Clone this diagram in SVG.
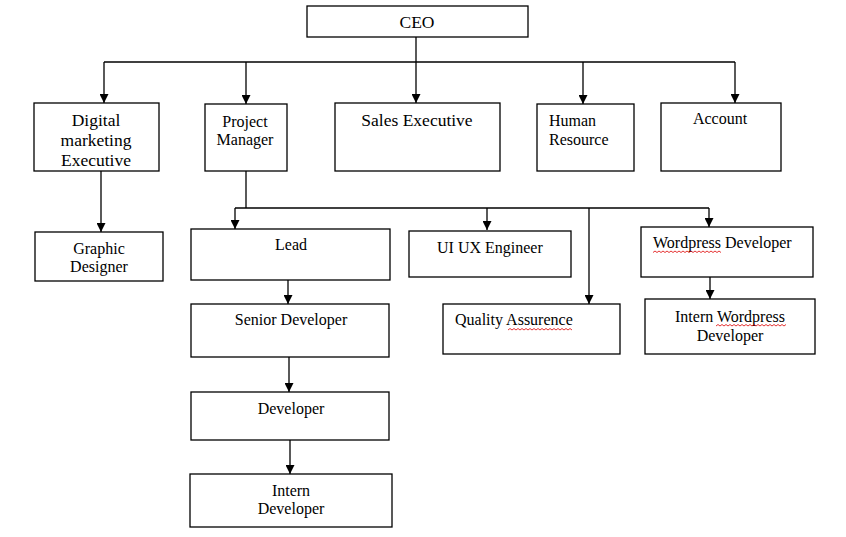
<svg xmlns="http://www.w3.org/2000/svg" width="846" height="537" viewBox="0 0 846 537">
<style>
.box{fill:#fff;stroke:#000;stroke-width:1.3}
.t{font-family:"Liberation Serif","Times New Roman",serif;font-size:16px;fill:#000}
.tl{font-family:"Liberation Serif","Times New Roman",serif;font-size:17.5px;fill:#000}
.c{text-anchor:middle}
.ln{fill:none;stroke:#000;stroke-width:1.3}
.sq{fill:none;stroke:#d00;stroke-width:0.8}
</style>
<defs>
<marker id="ah" viewBox="0 0 10 10" markerWidth="9" markerHeight="9" refX="10" refY="5" orient="auto" markerUnits="userSpaceOnUse">
<path d="M0,0 L10,5 L0,10 z" fill="#000"/>
</marker>
</defs>
<rect width="846" height="537" fill="#fff"/>
<g id="connectors">
<path class="ln" d="M416,37 V103" marker-end="url(#ah)"/>
<path class="ln" d="M104,62 H735"/>
<path class="ln" d="M104,62 V103" marker-end="url(#ah)"/>
<path class="ln" d="M246,62 V104" marker-end="url(#ah)"/>
<path class="ln" d="M583,62 V104" marker-end="url(#ah)"/>
<path class="ln" d="M735,62 V103" marker-end="url(#ah)"/>
<path class="ln" d="M101,171 V232" marker-end="url(#ah)"/>
<path class="ln" d="M246,171 V208"/>
<path class="ln" d="M235,208 H709"/>
<path class="ln" d="M235,208 V229" marker-end="url(#ah)"/>
<path class="ln" d="M487,208 V230" marker-end="url(#ah)"/>
<path class="ln" d="M589,208 V304" marker-end="url(#ah)"/>
<path class="ln" d="M709,208 V227" marker-end="url(#ah)"/>
<path class="ln" d="M288,280 V304" marker-end="url(#ah)"/>
<path class="ln" d="M289,357 V392" marker-end="url(#ah)"/>
<path class="ln" d="M290,440 V474" marker-end="url(#ah)"/>
<path class="ln" d="M710,277 V299" marker-end="url(#ah)"/>
</g>
<g id="ceo">
<rect class="box" x="307" y="6" width="221" height="31"/>
<text class="tl c" x="417" y="27.5">CEO</text>
</g>
<g id="digital-marketing">
<rect class="box" x="34" y="103" width="125" height="68"/>
<text class="tl c" x="96" y="126">Digital</text>
<text class="tl c" x="96" y="146">marketing</text>
<text class="tl c" x="96" y="166">Executive</text>
</g>
<g id="project-manager">
<rect class="box" x="205" y="104" width="82" height="67"/>
<text class="t c" x="245" y="126.5">Project</text>
<text class="t c" x="245" y="145">Manager</text>
</g>
<g id="sales-executive">
<rect class="box" x="335" y="103" width="165" height="68"/>
<text class="tl c" x="417" y="126">Sales Executive</text>
</g>
<g id="human-resource">
<rect class="box" x="537" y="104" width="97" height="67"/>
<text class="t" x="549" y="125.5">Human</text>
<text class="t" x="549" y="145">Resource</text>
</g>
<g id="account">
<rect class="box" x="661" y="103" width="120" height="68"/>
<text class="t c" x="720" y="123.5">Account</text>
</g>
<g id="graphic-designer">
<rect class="box" x="35" y="232" width="128" height="49"/>
<text class="t c" x="99" y="253.5">Graphic</text>
<text class="t c" x="99" y="272">Designer</text>
</g>
<g id="lead">
<rect class="box" x="191" y="229" width="199" height="51"/>
<text class="t c" x="291" y="250">Lead</text>
</g>
<g id="senior-developer">
<rect class="box" x="191" y="304" width="198" height="53"/>
<text class="t c" x="291" y="325">Senior Developer</text>
</g>
<g id="developer">
<rect class="box" x="191" y="392" width="198" height="48"/>
<text class="t c" x="291" y="413.5">Developer</text>
</g>
<g id="intern-developer">
<rect class="box" x="190" y="474" width="202" height="53"/>
<text class="t c" x="291" y="495.5">Intern</text>
<text class="t c" x="291" y="514">Developer</text>
</g>
<g id="ui-ux-engineer">
<rect class="box" x="409" y="231" width="162" height="46"/>
<text class="t" x="437" y="252.5">UI UX Engineer</text>
</g>
<g id="quality-assurence">
<rect class="box" x="443" y="304" width="177" height="50"/>
<text class="t" x="455" y="325">Quality Assurence</text>
<path class="sq" d="M508,330 l2,-1.5 l2,1.5 l2,-1.5 l2,1.5 l2,-1.5 l2,1.5 l2,-1.5 l2,1.5 l2,-1.5 l2,1.5 l2,-1.5 l2,1.5 l2,-1.5 l2,1.5 l2,-1.5 l2,1.5 l2,-1.5 l2,1.5 l2,-1.5 l2,1.5 l2,-1.5 l2,1.5 l2,-1.5 l2,1.5 l2,-1.5 l2,1.5 l2,-1.5 l2,1.5 l2,-1.5 l2,1.5 l2,-1.5 l2,1.5"/>
</g>
<g id="wordpress-developer">
<rect class="box" x="641" y="227" width="172" height="50"/>
<text class="t" x="653" y="248">Wordpress Developer</text>
<path class="sq" d="M653,252.5 l2,-1.5 l2,1.5 l2,-1.5 l2,1.5 l2,-1.5 l2,1.5 l2,-1.5 l2,1.5 l2,-1.5 l2,1.5 l2,-1.5 l2,1.5 l2,-1.5 l2,1.5 l2,-1.5 l2,1.5 l2,-1.5 l2,1.5 l2,-1.5 l2,1.5 l2,-1.5 l2,1.5 l2,-1.5 l2,1.5 l2,-1.5 l2,1.5 l2,-1.5 l2,1.5 l2,-1.5 l2,1.5 l2,-1.5 l2,1.5 l2,-1.5 l2,1.5"/>
</g>
<g id="intern-wordpress-developer">
<rect class="box" x="645" y="299" width="170" height="55"/>
<text class="t c" x="730" y="321.5">Intern Wordpress</text>
<text class="t c" x="730" y="340.5">Developer</text>
<path class="sq" d="M716,326 l2,-1.5 l2,1.5 l2,-1.5 l2,1.5 l2,-1.5 l2,1.5 l2,-1.5 l2,1.5 l2,-1.5 l2,1.5 l2,-1.5 l2,1.5 l2,-1.5 l2,1.5 l2,-1.5 l2,1.5 l2,-1.5 l2,1.5 l2,-1.5 l2,1.5 l2,-1.5 l2,1.5 l2,-1.5 l2,1.5 l2,-1.5 l2,1.5 l2,-1.5 l2,1.5 l2,-1.5 l2,1.5 l2,-1.5 l2,1.5 l2,-1.5 l2,1.5 l2,-1.5"/>
</g>
</svg>
